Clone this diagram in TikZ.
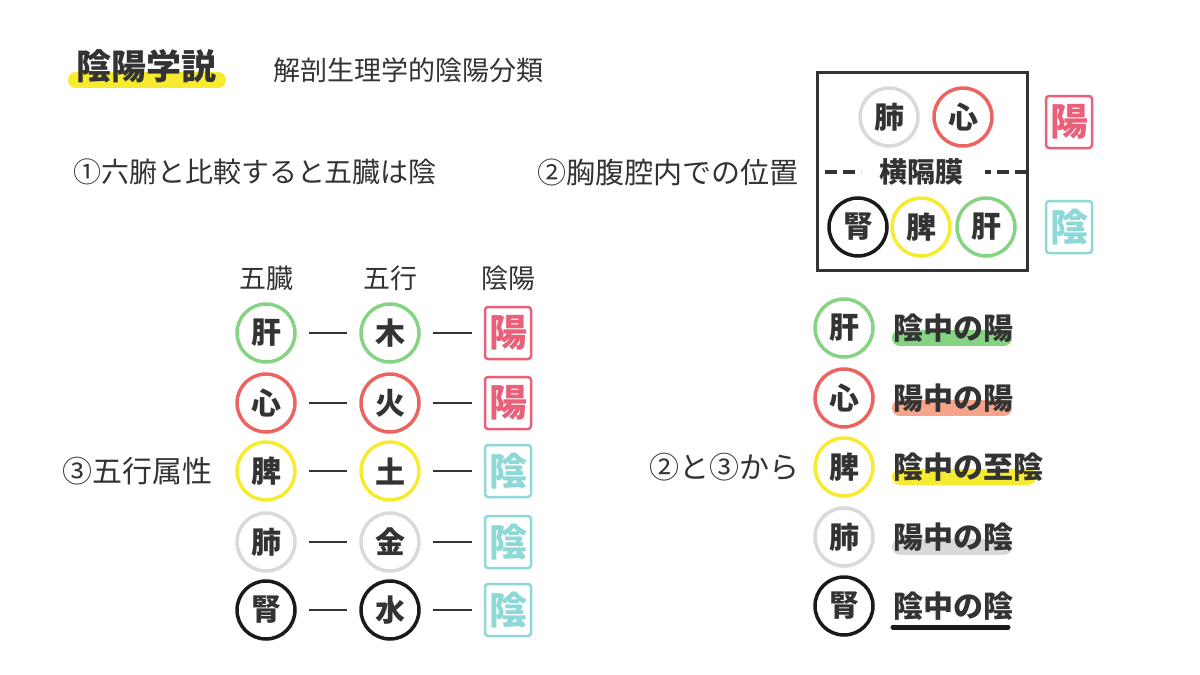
\documentclass[tikz,border=0pt]{standalone}
\usepackage{fontspec}
\setmainfont{Noto Sans CJK JP}
\usetikzlibrary{positioning}
\definecolor{cgreen}{HTML}{85D383}
\definecolor{cred}{HTML}{EC6460}
\definecolor{cyellow}{HTML}{F7EB2F}
\definecolor{cgray}{HTML}{D9D9D9}
\definecolor{cblack}{HTML}{1A1A1A}
\definecolor{yangc}{HTML}{E8607A}
\definecolor{yinc}{HTML}{8ED8D8}
\definecolor{salmon}{HTML}{F4A58C}
\definecolor{ink}{HTML}{333333}
\tikzset{
  organ/.style={circle, draw=#1, line width=3.5pt, minimum size=58pt, inner sep=0pt,
    font=\fontsize{30}{30}\selectfont\bfseries, text=ink},
  tag/.style={rounded corners=3pt, draw=#1, line width=2.5pt, text=#1, minimum width=46pt,
    minimum height=52pt, inner sep=0pt, font=\fontsize{38}{38}\selectfont\bfseries},
  plain/.style={font=\fontsize{#1}{#1}\selectfont, text=ink, inner sep=0pt},
  bold/.style={font=\fontsize{#1}{#1}\selectfont\bfseries, text=ink, inner sep=0pt},
  hl/.style={line width=16pt, line cap=round, draw=#1},
  link/.style={line width=2pt, draw=ink},
}
\begin{document}
\begin{tikzpicture}[x=1pt, y=-1pt]
\useasboundingbox (0,0) rectangle (1200,675);

% headings
\draw[hl=cyellow] (76,80) -- (218,80);
\node[bold=35] (title) at (146,66) {陰陽学説};
\node[plain=27] (sub) at (408,70) {解剖生理学的陰陽分類};
\node[plain=28] (p1) at (255,172) {①六腑と比較すると五臓は陰};
\node[plain=29] (p2) at (668,172) {②胸腹腔内での位置};
\node[plain=30] (p3) at (137,471) {③五行属性};
\node[plain=30] (p23) at (724,467) {②と③から};

% position in the body
\draw[line width=3pt, draw=ink] (817,72) rectangle (1027,270);
\node[organ=cgray] (lu) at (889,117) {肺};
\node[organ=cred] (he) at (963,117) {心};
\node[organ=cblack] (ki) at (858,227) {腎};
\node[organ=cyellow] (sp) at (921,227) {脾};
\node[organ=cgreen] (li) at (986,227) {肝};
\node[bold=28] (dia) at (921,172) {横隔膜};
\coordinate (dl) at (825,172);
\coordinate (dr) at (1027,172);
\draw[line width=4pt, draw=ink, dash pattern=on 12pt off 6pt] (dl) -- ++(36,0);
\draw[line width=4pt, draw=ink, dash pattern=on 12pt off 6pt] (dr) -- ++(-42,0);
\node[tag=yangc] (yang) at (1069,122) {陽};
\node[tag=yinc] (yin) at (1069,227) {陰};

% five phases table
\node[plain=27] (h1) at (266,278) {五臓};
\node[plain=27] (h2) at (390,278) {五行};
\node[plain=27] (h3) at (508,278) {陰陽};
\foreach \y/\org/\ele/\yy/\c/\tc in {333/肝/木/陽/cgreen/yangc, 403/心/火/陽/cred/yangc,
    471/脾/土/陰/cyellow/yinc, 542/肺/金/陰/cgray/yinc, 610/腎/水/陰/cblack/yinc}{
  \node[organ=\c] (o\y) at (266,\y) {\org};
  \node[organ=\c] (e\y) at (390,\y) {\ele};
  \node[tag=\tc] (t\y) at (508,\y) {\yy};
  \draw[link] ([xshift=12pt]o\y.east) -- ([xshift=-12pt]e\y.west);
  \draw[link] ([xshift=12pt]e\y.east) -- ([xshift=-12pt]t\y.west);
}

% result
\foreach \y/\org/\lab/\c/\hc in {328/肝/陰中の陽/cgreen/cgreen, 398/心/陽中の陽/cred/salmon,
    467/脾/陰中の至陰/cyellow/cyellow, 537/肺/陽中の陰/cgray/cgray}{
  \node[organ=\c] (r\y) at (844,\y) {\org};
  \draw[hl=\hc] (900,\y+10) -- ++(\ifnum\y=467 128\else 104\fi,0);
  \node[bold=30, anchor=west] (l\y) at (893,\y) {\lab};
}
\node[organ=cblack] (r606) at (844,606) {腎};
\draw[line width=5pt, line cap=round, draw=cblack] (893,627) -- (1008,627);
\node[bold=30, anchor=west] (l606) at (893,606) {陰中の陰};
\end{tikzpicture}
\end{document}
